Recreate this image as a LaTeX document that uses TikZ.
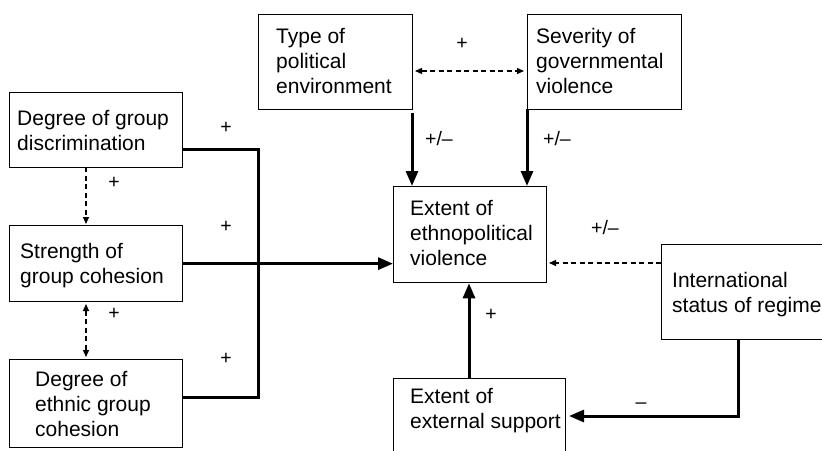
\documentclass[tikz,border=0pt]{standalone}
\usepackage{fontspec}
\setmainfont{Liberation Sans}
\usetikzlibrary{arrows.meta}
\begin{document}
\begin{tikzpicture}[x=1pt,y=-1pt,
  boxshape/.style={draw,line width=1.3pt,inner sep=0pt},
  txt/.style={anchor=north west,align=left,inner sep=0pt,font=\fontsize{21}{25}\selectfont},
  lbl/.style={inner sep=0pt,font=\fontsize{19.5}{22}\selectfont},
  strong/.style={line width=3pt},
  strongarrow/.style={strong,-{Triangle[length=15pt,width=12pt]}},
  dashline/.style={line width=1.3pt,dash pattern=on 5pt off 3.5pt},
  dasharrow/.style={dashline,-{Triangle[length=7pt,width=6pt]}},
  dashboth/.style={dashline,{Triangle[length=7pt,width=6pt]}-{Triangle[length=7pt,width=6pt]}}]
\useasboundingbox (0,0) rectangle (822,450);
\fill[white] (0,0) rectangle (822,450);
% boxes
\node[boxshape,minimum width=173pt,minimum height=75pt,anchor=north west] (b1) at (9,92) {};
\node[boxshape,minimum width=173pt,minimum height=76pt,anchor=north west] (b2) at (9,225) {};
\node[boxshape,minimum width=173pt,minimum height=88pt,anchor=north west] (b3) at (9,359) {};
\node[boxshape,minimum width=154pt,minimum height=95pt,anchor=north west] (type) at (258,14) {};
\node[boxshape,minimum width=154pt,minimum height=95pt,anchor=north west] (sev) at (527,14) {};
\node[boxshape,minimum width=153pt,minimum height=96pt,anchor=north west] (ctr) at (393,186) {};
\node[boxshape,minimum width=200pt,minimum height=95pt,anchor=north west] (intl) at (661,244) {};
\node[boxshape,minimum width=172pt,minimum height=100pt,anchor=north west] (ext) at (393,378) {};
% texts
\node[txt] (b1t) at (17,110) {Degree of group\\discrimination};
\node[txt] (b2t) at (20,243) {Strength of\\group cohesion};
\node[txt] (b3t) at (35,371) {Degree of\\ethnic group\\cohesion};
\node[txt] (typet) at (276,28) {Type of\\political\\environment};
\node[txt] (sevt) at (536,28) {Severity of\\governmental\\violence};
\node[txt] (ctrt) at (410,200) {Extent of\\ethnopolitical\\violence};
\node[txt] (intlt) at (672,272) {International\\status of regime};
\node[txt] (extt) at (410,388) {Extent of\\external support};
% helper coordinates
\coordinate (j1) at (258,149);
\coordinate (j3) at (258,397);
\coordinate (d1) at (86,167);
\coordinate (d2) at (86,224);
\coordinate (d3) at (86,304);
\coordinate (d4) at (86,357);
\coordinate (tp) at (412,113);
\coordinate (sp) at (527,109);
\coordinate (ep) at (469,378);
\coordinate (ip) at (738,339);
\coordinate (ic) at (738,416);
\coordinate (ie) at (569,416);
\coordinate (il) at (661,263);
\coordinate (cr) at (549,263);
\coordinate (hl) at (415,71);
\coordinate (hr) at (524,71);
% connectors
\draw[strong] (b1.east |- j1) -- (j1) -- (j3) -- (b3.east |- j3);
\draw[strongarrow] (b2.east) -- (b2.east -| ctr.west);
\draw[dasharrow] (d1) -- (d2);
\draw[dashboth] (d3) -- (d4);
\draw[dashboth] (hl) -- (hr);
\draw[strongarrow] (tp) -- (tp |- ctr.north);
\draw[strongarrow] (sp) -- (sp |- ctr.north);
\draw[dasharrow] (il) -- (cr);
\draw[strongarrow] (ep) -- (ep |- ctr.south);
\draw[strongarrow] (ip) -- (ic) -- (ie);
% labels
\node[lbl] (l1) at (462,44) {+};
\node[lbl] (l2) at (439,139) {+/–};
\node[lbl] (l3) at (557,139) {+/–};
\node[lbl] (l4) at (226,128) {+};
\node[lbl] (l5) at (114,183) {+};
\node[lbl] (l6) at (226,227) {+};
\node[lbl] (l7) at (114,314) {+};
\node[lbl] (l8) at (226,359) {+};
\node[lbl] (l9) at (605,228) {+/–};
\node[lbl] (l10) at (491,315) {+};
\node[lbl] (l11) at (641,406) {–};
\end{tikzpicture}
\end{document}
